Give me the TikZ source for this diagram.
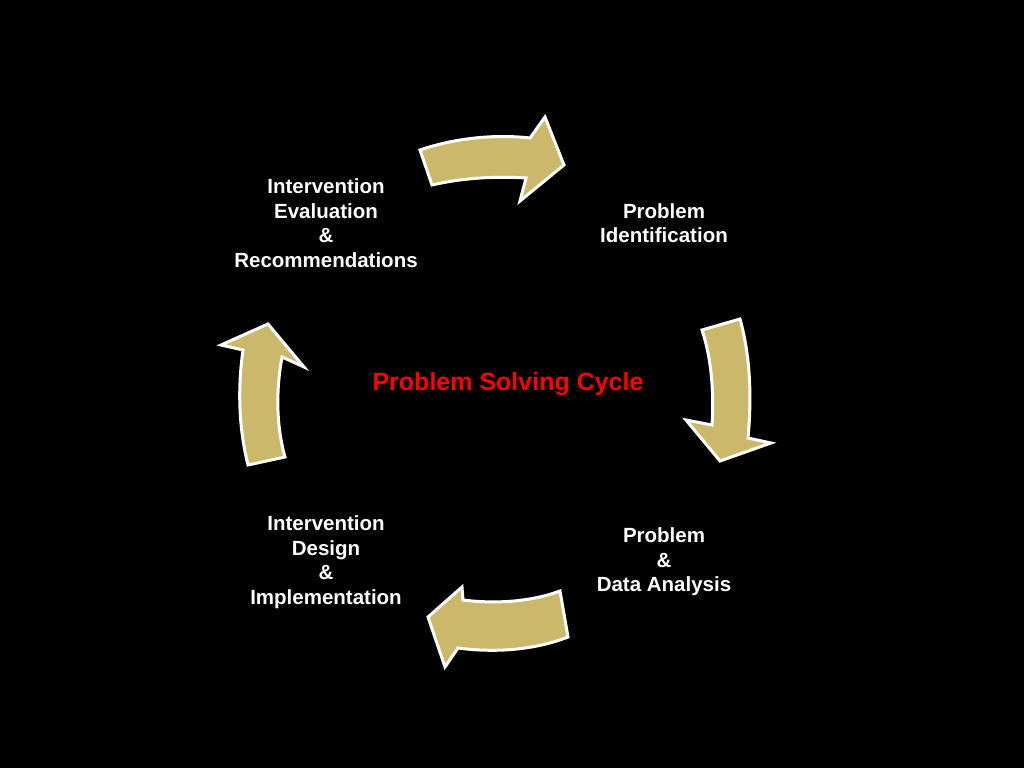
\documentclass[tikz,border=0pt]{standalone}
\usepackage{fontspec}
\setmainfont{Liberation Sans}
\begin{document}
\begin{tikzpicture}[x=1pt,y=-1pt,
  arr/.style={fill=khaki,draw=white,line width=3pt,line join=miter},
  lbl/.style={text=white,font=\bfseries\fontsize{20.5}{24.5}\selectfont,align=center}]
\definecolor{khaki}{HTML}{CCB86A}
\fill[black] (0,0) rectangle (1024,768);
\useasboundingbox (0,0) rectangle (1024,768);
% top arrow
\draw[arr] (420,150) .. controls (455,138) and (495,134) .. (530,138)
  -- (545,117) -- (564,165) -- (520,201) -- (526,178)
  .. controls (495,176) and (462,178) .. (432,185) -- cycle;
% right arrow
\draw[arr] (702,330) .. controls (712,360) and (714,395) .. (712,425)
  -- (686,420) -- (720,461) -- (771,443) -- (748,438)
  .. controls (752,395) and (750,355) .. (740,319) -- cycle;
% bottom arrow
\draw[arr] (560,591) .. controls (530,602) and (495,604) .. (463,600)
  -- (462,587) -- (428,617) -- (445,667) -- (458,648)
  .. controls (495,653) and (535,650) .. (568,637) -- cycle;
% left arrow
\draw[arr] (248,465) .. controls (238,425) and (238,385) .. (243,350)
  -- (221,345) -- (268,324) -- (304,367) -- (282,357)
  .. controls (276,390) and (276,425) .. (285,457) -- cycle;
\node[lbl] (ie) at (326,223) {Intervention\\Evaluation\\\&\\Recommendations};
\node[lbl] (pi) at (664,223) {Problem\\Identification};
\node[lbl] (id) at (326,562) {Intervention\\Design\\\&\\Implementation};
\node[lbl] (pd) at (664,562) {Problem\\\&\\Data Analysis};
\node[text=red,font=\bfseries\fontsize{25}{30}\selectfont] (c) at (508,384) {Problem Solving Cycle};
\end{tikzpicture}
\end{document}
